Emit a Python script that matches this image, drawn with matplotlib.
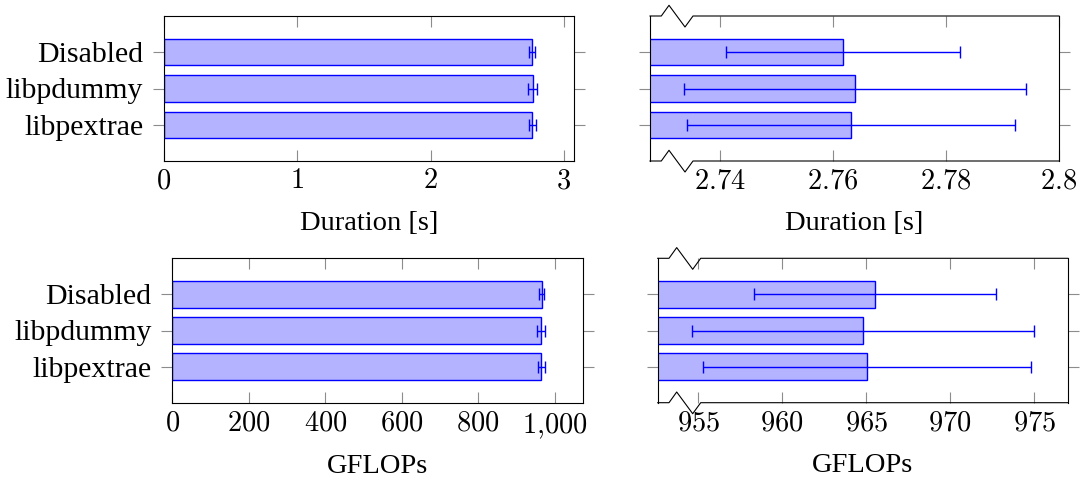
import matplotlib
matplotlib.use('Agg')
import matplotlib.pyplot as plt
from matplotlib.lines import Line2D

# data
configs = ['libpextrae', 'libpdummy', 'Disabled']
duration_mean = [2.7632, 2.7639, 2.7617]
duration_err = [0.0290, 0.0302, 0.0207]
gflops_mean = [965.05, 964.83, 965.52]
gflops_err = [9.79, 10.19, 7.22]

dur_ticks_full = [0, 1, 2, 3]
dur_ticks_zoom = [2.74, 2.76, 2.78, 2.8]
gf_ticks_full = [0, 200, 400, 600, 800, 1000]
gf_ticks_zoom = [955, 960, 965, 970, 975]

plt.rcParams['font.family'] = ['Liberation Serif', 'DejaVu Serif']
plt.rcParams['font.size'] = 20.5
plt.rcParams['mathtext.fontset'] = 'cm'

W, H = 1083, 480
fig = plt.figure(figsize=(W / 100, H / 100), dpi=100)


def make_axes(l, t, r, b):
    return fig.add_axes([l / W, 1 - b / H, (r - l) / W, (b - t) / H])


def draw(ax, mean, err, xlim, ticks, ticklabels, xlabel, names, labelpad):
    y = list(range(len(configs)))
    ax.barh(y, mean, height=0.73, color='#b3b3ff', edgecolor='blue', linewidth=1.0, zorder=2)
    ax.errorbar(mean, y, xerr=err, fmt='none', ecolor='blue', elinewidth=1.0,
                capsize=4, capthick=1.0, zorder=3)
    ax.set_xlim(xlim)
    ax.set_ylim(-1, 3)
    ax.set_xticks(ticks, ticklabels)
    ax.set_yticks(y, configs if names else [])
    ax.tick_params(axis='x', direction='in', top=True, bottom=True, length=8,
                   width=0.8, color='0.55', pad=6, labelsize=20.5)
    ax.tick_params(axis='y', direction='out', left=True, right=True, length=8,
                   width=0.8, color='0.55', pad=7, labelleft=names, labelsize=21.5)
    for s in ax.spines.values():
        s.set_linewidth(0.8)
    ax.set_xlabel(xlabel, labelpad=labelpad, fontsize=20.5)


def broken(ax, l, t, r, b):
    ax.spines['top'].set_visible(False)
    ax.spines['bottom'].set_visible(False)
    for ye in (t, b):
        xs = [l, l + 11.3, l + 19, l + 35, l + 43, r]
        ys = [ye, ye, ye - 10.7, ye + 11, ye, ye]
        fig.add_artist(Line2D([x / W for x in xs], [1 - v / H for v in ys],
                              transform=fig.transFigure, color='black', lw=0.8))


ax1 = make_axes(164, 16, 574, 161)
draw(ax1, duration_mean, duration_err, (0, 3.075), dur_ticks_full,
     [r'$%d$' % v for v in dur_ticks_full], 'Duration [s]', True, 12)

ax2 = make_axes(650, 16, 1059, 161)
draw(ax2, duration_mean, duration_err, (2.7276, 2.8), dur_ticks_zoom,
     [r'$2.74$', r'$2.76$', r'$2.78$', r'$2.8$'], 'Duration [s]', False, 12)
broken(ax2, 650, 16, 1059, 161)

ax3 = make_axes(172.3, 258.3, 582.7, 402.7)
draw(ax3, gflops_mean, gflops_err, (0, 1073), gf_ticks_full,
     [r'$%s$' % ('{:,}'.format(v).replace(',', '{,}')) for v in gf_ticks_full],
     'GFLOPs', True, 9.5)

ax4 = make_axes(657.7, 258.3, 1067.7, 402.7)
draw(ax4, gflops_mean, gflops_err, (952.58, 977.0), gf_ticks_zoom,
     [r'$%d$' % v for v in gf_ticks_zoom], 'GFLOPs', False, 12)
broken(ax4, 657.7, 258.3, 1067.7, 402.7)

fig.savefig('out.png', dpi=100)
